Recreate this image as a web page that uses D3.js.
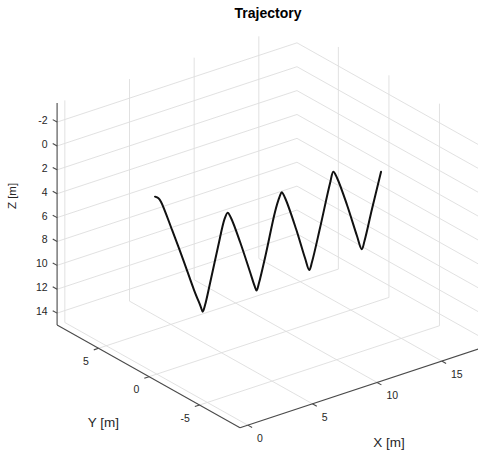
<!DOCTYPE html>
<html>
<head>
<meta charset="utf-8">
<script src="https://cdn.jsdelivr.net/npm/d3@7"></script>
<style>
  body { margin: 0; background: #fff; }
  text { font-family: "Liberation Sans", Arial, Helvetica, sans-serif; }
</style>
</head>
<body>
<script>
// axis limits and ticks (z axis is reversed: -2 on top, 14 at the bottom)
const xLim = [-0.6, 17.95];
const yLim = [-9, 9.1];
const zLim = [-3.6, 15];
const xTicks = [0, 5, 10, 15];
const yTicks = [-5, 0, 5];
const zTicks = [-2, 0, 2, 4, 6, 8, 10, 12, 14];

// trajectory samples
const trajX = [-0.14, 0.13, 0.33, 1.18, 2.05, 2.88, 3.38, 3.55, 3.73, 4.12, 4.73, 5.24, 5.48,
  5.74, 6.44, 7.21, 7.56, 7.71, 7.90, 8.45, 9.14, 9.49, 9.66, 9.92, 10.77, 11.46, 11.79,
  12.00, 12.62, 13.40, 13.65, 13.94, 14.71, 15.48, 15.85, 16.06, 16.64, 17.34];
const trajY = [0, 0, 0, 0, 0, 0, 0, 0, 0, 0, 0, 0, 0,
  0, 0, 0, 0, 0, 0, 0, 0, 0, 0, 0, 0, 0, 0,
  0, 0, 0, 0, 0, 0, 0, 0, 0, 0, 0];
const trajZ = [0.09, 0.32, 0.70, 3.35, 6.18, 8.99, 10.51, 11.04, 10.55, 8.84, 6.05, 3.88, 3.44,
  3.98, 6.24, 9.03, 10.32, 10.76, 10.20, 7.88, 4.69, 3.56, 3.23, 3.80, 6.70, 9.38, 10.50,
  9.91, 7.28, 3.79, 2.93, 3.56, 6.10, 8.97, 10.22, 9.60, 7.13, 4.25];

const width = 478, height = 450;

// view: azimuth / elevation of the camera, origin = front bottom corner
const az = 37.5 * Math.PI / 180,
      el = 25.5 * Math.PI / 180;
const origin = [240, 427.7];

const sx = d3.scaleLinear().domain(xLim).range([0, 16.3 * (xLim[1] - xLim[0])]);
const sy = d3.scaleLinear().domain(yLim).range([0, 16.6 * (yLim[1] - yLim[0])]);
const sz = d3.scaleLinear().domain(zLim).range([13.23 * (zLim[1] - zLim[0]), 0]);

function proj(x, y, z) {
  const u = sx(x), v = sy(y), w = sz(z);
  return [
    origin[0] + u * Math.cos(az) - v * Math.sin(az),
    origin[1] - (u * Math.sin(az) + v * Math.cos(az)) * Math.sin(el) - w * Math.cos(el)
  ];
}

const svg = d3.select("body").append("svg")
    .attr("width", width)
    .attr("height", height)
    .style("display", "block");

function seg(g, a, b, cls) {
  const p = proj(...a), q = proj(...b);
  g.append("line").attr("class", cls)
    .attr("x1", p[0]).attr("y1", p[1])
    .attr("x2", q[0]).attr("y2", q[1]);
}

// grid on the three back planes
const grid = svg.append("g")
    .attr("stroke", "#dedede")
    .attr("stroke-width", 0.9)
    .attr("fill", "none");

zTicks.forEach(z => {
  seg(grid, [xLim[0], yLim[1], z], [xLim[1], yLim[1], z]);   // back-left wall
  seg(grid, [xLim[1], yLim[1], z], [xLim[1], yLim[0], z]);   // back-right wall
});
xTicks.forEach(x => {
  seg(grid, [x, yLim[1], zLim[0]], [x, yLim[1], zLim[1]]);
  seg(grid, [x, yLim[0], zLim[1]], [x, yLim[1], zLim[1]]);   // floor
});
yTicks.forEach(y => {
  seg(grid, [xLim[1], y, zLim[0]], [xLim[1], y, zLim[1]]);
  seg(grid, [xLim[0], y, zLim[1]], [xLim[1], y, zLim[1]]);   // floor
});

// axis lines
const axes = svg.append("g")
    .attr("stroke", "#4a4a4a")
    .attr("stroke-width", 1.1)
    .attr("fill", "none");
seg(axes, [xLim[0], yLim[1], zLim[0]], [xLim[0], yLim[1], zLim[1]]);  // z
seg(axes, [xLim[0], yLim[0], zLim[1]], [xLim[0], yLim[1], zLim[1]]);  // y
seg(axes, [xLim[0], yLim[0], zLim[1]], [xLim[1], yLim[0], zLim[1]]);  // x

// tick marks, pointing out of the box
const tickLen = 5;
function dirOf(a, b) {
  const p = proj(...a), q = proj(...b);
  const d = Math.hypot(q[0] - p[0], q[1] - p[1]);
  return [(q[0] - p[0]) / d, (q[1] - p[1]) / d];
}
const zDir = dirOf([0, 0, 0], [0, 1, 0]);
const xDir = dirOf([0, 1, 0], [0, 0, 0]);
const yDir = dirOf([1, 0, 0], [0, 0, 0]);

function ticks(list, toPoint, dir) {
  list.forEach(t => {
    const p = proj(...toPoint(t));
    axes.append("line")
      .attr("x1", p[0]).attr("y1", p[1])
      .attr("x2", p[0] + dir[0] * tickLen).attr("y2", p[1] + dir[1] * tickLen);
  });
}
ticks(zTicks, z => [xLim[0], yLim[1], z], zDir);
ticks(xTicks, x => [x, yLim[0], zLim[1]], xDir);
ticks(yTicks, y => [xLim[0], y, zLim[1]], yDir);

// tick labels
const labels = svg.append("g")
    .attr("fill", "#262626")
    .attr("font-size", "10.5px");

zTicks.forEach(z => {
  const p = proj(xLim[0], yLim[1], z);
  labels.append("text")
    .attr("x", p[0] - 9.5).attr("y", p[1] + 2)
    .attr("text-anchor", "end")
    .text(z);
});
xTicks.forEach(x => {
  const p = proj(x, yLim[0], zLim[1]);
  labels.append("text")
    .attr("x", p[0] + 9.3).attr("y", p[1] + 17)
    .attr("text-anchor", "start")
    .text(x);
});
yTicks.forEach(y => {
  const p = proj(xLim[0], y, zLim[1]);
  labels.append("text")
    .attr("x", p[0] - 9.8).attr("y", p[1] + 16.6)
    .attr("text-anchor", "end")
    .text(y);
});

// axis titles
svg.append("text")
    .attr("x", 103.5).attr("y", 427.3)
    .attr("text-anchor", "middle")
    .attr("font-size", "13.5px")
    .attr("fill", "#262626")
    .text("Y [m]");
svg.append("text")
    .attr("x", 389).attr("y", 446.5)
    .attr("text-anchor", "middle")
    .attr("font-size", "13.5px")
    .attr("fill", "#262626")
    .text("X [m]");
svg.append("text")
    .attr("transform", "translate(11.7,196) rotate(-90)")
    .attr("dy", "0.35em")
    .attr("text-anchor", "middle")
    .attr("font-size", "11.5px")
    .attr("fill", "#262626")
    .text("Z [m]");

// title
svg.append("text")
    .attr("x", 268).attr("y", 17.5)
    .attr("text-anchor", "middle")
    .attr("font-size", "14px")
    .attr("font-weight", "bold")
    .attr("fill", "#000")
    .text("Trajectory");

// trajectory
const pts = trajX.map((x, i) => proj(x, trajY[i], trajZ[i]));
svg.append("path")
    .datum(pts)
    .attr("fill", "none")
    .attr("stroke", "#111")
    .attr("stroke-width", 2)
    .attr("stroke-linejoin", "round")
    .attr("stroke-linecap", "round")
    .attr("d", d3.line().curve(d3.curveCatmullRom.alpha(0.5)));
</script>
</body>
</html>
